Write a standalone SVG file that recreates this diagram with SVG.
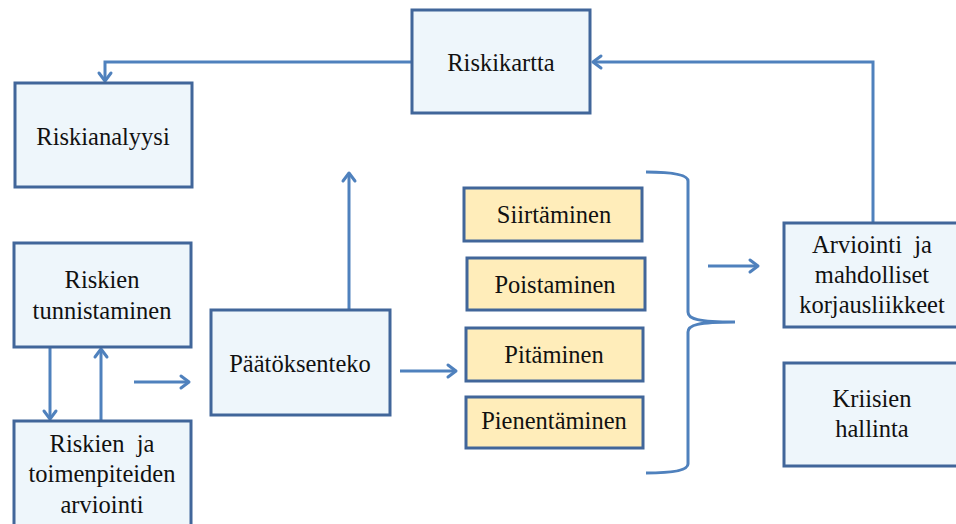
<svg xmlns="http://www.w3.org/2000/svg" width="956" height="524" viewBox="0 0 956 524">
<style>
.box{fill:#EEF6FB;stroke:#41669A;stroke-width:3}
.ybox{fill:#FFEDBA;stroke:#41669A;stroke-width:3}
.t{font-family:"Liberation Serif","Times New Roman",serif;font-size:24.5px;fill:#111;text-anchor:middle}
.c{fill:none;stroke:#4F81BD;stroke-width:3}
.a{marker-end:url(#arr)}
</style>
<defs>
<marker id="arr" markerUnits="userSpaceOnUse" markerWidth="20" markerHeight="20" viewBox="-12 -10 14 20" refX="0" refY="0" orient="auto">
<path d="M-8,-6 L0,0 L-8,6" fill="none" stroke="#4F81BD" stroke-width="3" stroke-linejoin="round" stroke-linecap="round"/>
</marker>
</defs>
<rect width="956" height="524" fill="#fff"/>
<g id="connectors">
<path class="c a" d="M411,62 H105 V81"/>
<path class="c a" d="M873,222 V62 H593"/>
<path class="c a" d="M349,309 V173"/>
<path class="c a" d="M50,348 V419"/>
<path class="c a" d="M101,420 V349"/>
<path class="c a" d="M134,382 H189"/>
<path class="c a" d="M400,371 H456"/>
<path class="c a" d="M708,266 H758"/>
<path class="c" d="M646,172 C670,172 688,174 688,181 L688,312 C688,319 698,322 735,322 M735,322 C698,322 688,325 688,332 L688,464 C688,471 670,473 646,473"/>
</g>
<g id="riskikartta"><rect class="box" x="412" y="10" width="178" height="103"/><text class="t" x="501" y="71">Riskikartta</text></g>
<g id="riskianalyysi"><rect class="box" x="15" y="83" width="177" height="104"/><text class="t" x="103" y="145">Riskianalyysi</text></g>
<g id="tunnistaminen"><rect class="box" x="14" y="243" width="177" height="104"/><text class="t" x="102" y="288">Riskien</text><text class="t" x="102" y="319">tunnistaminen</text></g>
<g id="arviointi"><rect class="box" x="14" y="421" width="177" height="120"/><text class="t" x="102" y="452" xml:space="preserve">Riskien  ja</text><text class="t" x="102" y="482">toimenpiteiden</text><text class="t" x="102" y="513">arviointi</text></g>
<g id="paatoksenteko"><rect class="box" x="211" y="310" width="179" height="105"/><text class="t" x="300" y="372">Päätöksenteko</text></g>
<g id="siirtaminen"><rect class="ybox" x="464" y="188" width="178" height="53"/><text class="t" x="554" y="223">Siirtäminen</text></g>
<g id="poistaminen"><rect class="ybox" x="467" y="258" width="178" height="52"/><text class="t" x="555" y="293">Poistaminen</text></g>
<g id="pitaminen"><rect class="ybox" x="466" y="328" width="177" height="53"/><text class="t" x="554" y="363">Pitäminen</text></g>
<g id="pienentaminen"><rect class="ybox" x="466" y="397" width="177" height="51"/><text class="t" x="554" y="429">Pienentäminen</text></g>
<g id="korjausliikkeet"><rect class="box" x="784" y="223" width="180" height="104"/><text class="t" x="872" y="253" xml:space="preserve">Arviointi  ja</text><text class="t" x="872" y="283">mahdolliset</text><text class="t" x="872" y="313">korjausliikkeet</text></g>
<g id="kriisien"><rect class="box" x="784" y="363" width="180" height="103"/><text class="t" x="872" y="407">Kriisien</text><text class="t" x="872" y="437">hallinta</text></g>
</svg>
